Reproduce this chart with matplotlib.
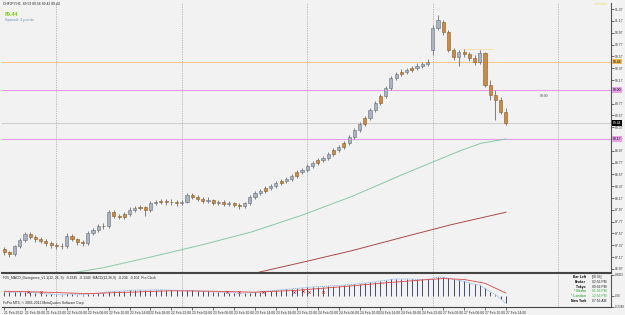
import matplotlib.pyplot as plt

plt.rcParams['font.family'] = ['Liberation Sans', 'DejaVu Sans']

W, H = 625, 315

# --- data (CHFJPY H1, 21 Feb 14:00 .. 27 Feb 14:00) ---
bars = list(range(97))
opens = [87.30, 87.25, 87.22, 87.36, 87.46, 87.56, 87.51, 87.47, 87.44, 87.41,
         87.37, 87.36, 87.35, 87.53, 87.47, 87.42, 87.40, 87.58, 87.63, 87.70,
         87.69, 87.93, 87.86, 87.90, 87.90, 87.97, 88.01, 88.01, 87.96, 88.08,
         88.12, 88.12, 88.10, 88.11, 88.08, 88.10, 88.22, 88.19, 88.15, 88.12,
         88.14, 88.08, 88.10, 88.07, 88.08, 88.05, 88.03, 88.08, 88.19, 88.25,
         88.34, 88.34, 88.37, 88.46, 88.46, 88.49, 88.61, 88.61, 88.64, 88.71,
         88.81, 88.81, 88.85, 88.98, 88.98, 89.10, 89.10, 89.20, 89.32, 89.52,
         89.52, 89.66, 89.90, 89.90, 90.03, 90.20, 90.31, 90.31, 90.37, 90.37,
         90.41, 90.44, 90.68, 91.05, 91.16, 90.99, 90.68, 90.56, 90.65, 90.61,
         90.54, 90.48, 90.63, 90.09, 89.92, 89.83, 89.63]
highs = [87.34, 87.28, 87.38, 87.50, 87.60, 87.59, 87.55, 87.51, 87.47, 87.45,
         87.41, 87.40, 87.57, 87.56, 87.50, 87.46, 87.61, 87.67, 87.73, 87.74,
         87.97, 87.96, 87.90, 87.94, 88.01, 88.04, 88.05, 88.04, 88.12, 88.14,
         88.16, 88.15, 88.15, 88.14, 88.14, 88.26, 88.25, 88.22, 88.18, 88.18,
         88.16, 88.14, 88.13, 88.12, 88.11, 88.08, 88.11, 88.22, 88.29, 88.33,
         88.38, 88.41, 88.46, 88.50, 88.53, 88.58, 88.65, 88.68, 88.75, 88.80,
         88.85, 88.89, 88.95, 89.02, 89.07, 89.14, 89.24, 89.36, 89.46, 89.56,
         89.70, 89.82, 89.94, 90.07, 90.24, 90.31, 90.35, 90.38, 90.41, 90.45,
         90.48, 90.52, 91.10, 91.27, 91.19, 91.02, 90.71, 90.68, 90.70, 90.65,
         90.60, 90.68, 90.65, 90.17, 90.00, 89.88, 89.70]
lows = [87.20, 87.17, 87.19, 87.33, 87.43, 87.48, 87.43, 87.40, 87.36, 87.33,
        87.31, 87.30, 87.33, 87.44, 87.38, 87.36, 87.38, 87.55, 87.60, 87.64,
        87.67, 87.83, 87.81, 87.82, 87.87, 87.94, 87.96, 87.86, 87.94, 88.05,
        88.07, 88.06, 88.06, 88.04, 88.05, 88.08, 88.16, 88.12, 88.09, 88.09,
        88.05, 88.05, 88.03, 88.04, 88.01, 87.99, 88.00, 88.06, 88.16, 88.22,
        88.26, 88.31, 88.34, 88.39, 88.43, 88.46, 88.51, 88.58, 88.61, 88.68,
        88.73, 88.78, 88.82, 88.88, 88.95, 89.00, 89.07, 89.17, 89.29, 89.39,
        89.49, 89.63, 89.75, 89.87, 90.00, 90.17, 90.24, 90.28, 90.31, 90.34,
        90.38, 90.41, 90.60, 91.02, 90.93, 90.65, 90.51, 90.41, 90.56, 90.49,
        90.43, 90.44, 90.05, 89.83, 89.49, 89.59, 89.41]
closes = [87.25, 87.22, 87.36, 87.46, 87.56, 87.51, 87.47, 87.44, 87.41, 87.37,
          87.36, 87.35, 87.53, 87.47, 87.42, 87.40, 87.58, 87.63, 87.70, 87.69,
          87.93, 87.86, 87.85, 87.85, 87.97, 88.00, 88.00, 87.96, 88.08, 88.10,
          88.10, 88.10, 88.11, 88.08, 88.10, 88.22, 88.19, 88.15, 88.12, 88.14,
          88.08, 88.10, 88.07, 88.08, 88.05, 88.03, 88.08, 88.19, 88.25, 88.29,
          88.29, 88.37, 88.42, 88.42, 88.49, 88.54, 88.54, 88.64, 88.71, 88.76,
          88.76, 88.85, 88.91, 88.91, 89.03, 89.03, 89.20, 89.32, 89.42, 89.42,
          89.66, 89.78, 89.78, 90.03, 90.20, 90.27, 90.27, 90.34, 90.34, 90.41,
          90.44, 90.48, 91.05, 91.19, 90.99, 90.68, 90.56, 90.65, 90.61, 90.54,
          90.48, 90.63, 90.09, 89.92, 89.83, 89.63, 89.44]

# moving averages, read at a few bars
ma_green_bars = [11, 19, 28.5, 38, 47.5, 57, 66.6, 76, 82, 87.5, 91.3, 96]
ma_green = [86.87, 86.99, 87.18, 87.38, 87.60, 87.88, 88.20, 88.56, 88.78, 88.98, 89.10, 89.17]
ma_red_bars = [46.6, 57, 66.6, 76, 85.6, 96]
ma_red = [86.87, 87.08, 87.28, 87.50, 87.72, 87.93]

# MACD panel
macd = [0.09, 0.08, 0.08, 0.08, 0.09, 0.08, 0.07, 0.06, 0.05, 0.04,
        0.03, 0.03, 0.04, 0.04, 0.03, 0.03, 0.04, 0.05, 0.06, 0.07,
        0.09, 0.10, 0.10, 0.11, 0.12, 0.12, 0.13, 0.12, 0.13, 0.13,
        0.13, 0.13, 0.12, 0.12, 0.11, 0.12, 0.12, 0.11, 0.10, 0.10,
        0.09, 0.08, 0.08, 0.07, 0.07, 0.06, 0.06, 0.07, 0.08, 0.09,
        0.10, 0.11, 0.12, 0.13, 0.14, 0.15, 0.16, 0.17, 0.18, 0.19,
        0.20, 0.20, 0.21, 0.22, 0.22, 0.23, 0.24, 0.25, 0.26, 0.27,
        0.29, 0.30, 0.32, 0.33, 0.35, 0.36, 0.36, 0.36, 0.36, 0.35,
        0.35, 0.35, 0.37, 0.40, 0.40, 0.38, 0.35, 0.33, 0.31, 0.28,
        0.25, 0.23, 0.16, 0.09, 0.03, -0.06, -0.16]
signal_bars = [0, 8, 16, 24, 32, 40, 48, 56, 64, 72, 80, 84, 88, 92, 96]
signal = [0.10, 0.08, 0.05, 0.08, 0.11, 0.10, 0.08, 0.12, 0.19, 0.27, 0.34, 0.37, 0.35, 0.27, 0.06]
div_bars = [4.5, 7, 42.6, 44.9, 49.6, 55.5, 57.2, 58.4, 61]
div_vals = [0.09, 0.09, 0.09, 0.08, 0.09, 0.09, 0.10, 0.09, 0.09]

date_ticks = list(range(0, 97, 4))
date_labels = ["21 Feb 2012", "21 Feb 18:00", "21 Feb 22:00", "22 Feb 02:00", "22 Feb 06:00",
               "22 Feb 10:00", "22 Feb 14:00", "22 Feb 18:00", "22 Feb 22:00", "23 Feb 02:00",
               "23 Feb 06:00", "23 Feb 10:00", "23 Feb 14:00", "23 Feb 18:00", "23 Feb 22:00",
               "24 Feb 02:00", "24 Feb 06:00", "24 Feb 10:00", "24 Feb 14:00", "24 Feb 18:00",
               "24 Feb 22:00", "27 Feb 02:00", "27 Feb 06:00", "27 Feb 10:00", "27 Feb 14:00"]
day_starts = [10, 34, 58, 82, 106]
price_ticks = [91.37, 91.17, 90.97, 90.77, 90.57, 90.37, 90.17, 89.97, 89.77, 89.57,
               89.37, 89.17, 88.97, 88.77, 88.57, 88.37, 88.17, 87.97, 87.77, 87.57,
               87.37, 87.17, 86.97]
levels = [(90.48, '#f5c98c', '#f5b860', 'black'), (90.00, '#e39be3', '#e8a0e8', 'black'),
          (89.44, '#cfcfcf', 'black', 'white'), (89.17, '#e39be3', '#e8a0e8', 'black')]

clock_names = ["Bar Left", "Broker", "Tokyo", "* Berlin", "* London", "New York"]
clock_vals = ["[00:36]", "02:56 PM", "09:56 PM", "01:56 PM", "12:56 PM", "07:56 AM"]
clock_cols = ["black", "black", "black", "#3cb04a", "#3cb04a", "black"]

BG = '#f2f2f2'
FS = 2.4

fig = plt.figure(figsize=(W / 100, H / 100), dpi=100, facecolor=BG)


def box(l, t, r, b):
    return [l / W, 1 - b / H, (r - l) / W, (b - t) / H]


ax = fig.add_axes(box(2, 3, 611, 273))
axm = fig.add_axes(box(2, 275, 611, 307), sharex=ax)
for a in (ax, axm):
    a.set_facecolor(BG)
    a.spines['top'].set_visible(False)
    a.spines['left'].set_visible(False)
    a.spines['right'].set_color('#555555')
    a.spines['bottom'].set_color('#444444')
    a.spines['right'].set_linewidth(0.8)
    a.yaxis.tick_right()
    a.tick_params(axis='y', labelsize=FS, length=2, width=0.5, pad=1, colors='#333333')
    for d in day_starts:
        a.axvline(d, color='#8a8a8a', lw=0.5, ls=(0, (1, 1.5)))
ax.spines['bottom'].set_linewidth(1.5)

# main chart
ax.set_xlim(0.1 - 0.5, 116.1)
ax.set_ylim(86.90, 91.475)
ax.plot(ma_green_bars, ma_green, color='#86c9a4', lw=0.7)
ax.plot(ma_red_bars, ma_red, color='#b04848', lw=0.7)
for val, lc, fc, tc in levels:
    ax.axhline(val, color=lc, lw=0.8, zorder=1)
    ax.annotate(f"{val:.2f}", xy=(1.0, val), xycoords=('axes fraction', 'data'),
                xytext=(1.2, 0), textcoords='offset points', va='center', ha='left',
                fontsize=FS, color=tc,
                bbox=dict(boxstyle='square,pad=0.2', fc=fc, ec='none'), annotation_clip=False)
ax.hlines(90.70, 87.5, 93.5, color='#f8dcb8', lw=0.7)
ax.text(102.5, 89.93, "90.00", fontsize=FS, color='#444444', va='top')

ax.vlines(bars, lows, highs, color='#6e6e6e', lw=0.6, zorder=3)
body_bottom = [min(o, c) for o, c in zip(opens, closes)]
body_h = [max(abs(c - o), 0.01) for o, c in zip(opens, closes)]
body_col = ['#aab3bf' if c >= o else '#c98b45' for o, c in zip(opens, closes)]
body_edge = ['#67707c' if c >= o else '#8b5a22' for o, c in zip(opens, closes)]
ax.bar(bars, body_h, bottom=body_bottom, width=0.6, color=body_col,
       edgecolor=body_edge, linewidth=0.4, zorder=4)
ax.set_yticks(price_ticks)
ax.set_yticklabels([f"{p:.2f}" for p in price_ticks])
ax.tick_params(axis='x', bottom=False, labelbottom=False)

# MACD
axm.set_ylim(-0.2349, 0.4453)
axm.vlines(bars, 0, macd, color='#2f2f5e', lw=0.6)
axm.plot(bars, macd, color='#7fb0e8', lw=0.6, ls=(0, (1.5, 1)))
axm.plot(signal_bars, signal, color='#e04545', lw=0.6)
axm.plot(div_bars, div_vals, ls='none', marker='x', ms=1.6, mew=0.5, color='#d02020')
axm.set_yticks([0.4453, 0.0, -0.2349])
axm.set_yticklabels(["0.4453", "0.00", "-0.2349"])
axm.tick_params(axis='y', labelsize=2.1)
axm.set_xticks(date_ticks)
axm.set_xticklabels(date_labels, ha='left')
axm.tick_params(axis='x', labelsize=FS, length=2, width=0.5, pad=0.8, colors='#333333')


# texts
def ftext(x, y, s, **kw):
    kw.setdefault('fontsize', FS)
    kw.setdefault('va', 'center')
    fig.text(x / W, 1 - y / H, s, **kw)


ftext(3, 3.5, "CHFJPY,H1  89.53 89.56 89.42 89.44", color='#222222')
ftext(5, 14, "89.44", fontsize=3.9, color='#7ccc10', fontweight='bold')
ftext(5, 20, "Spread: 3 points", fontsize=2.9, color='#6d8fb8')
ftext(608, 4, "x.Chartist", color='#e8e060', ha='right')
ftext(3, 277.5, "FX5_MACD_Divergence_v1.1(12, 26, 9)  -0.2345  -0.1340  MACD(12,26,9)  -0.234  -0.104  Pro Clock",
      color='#222222')
ftext(3, 303, "FxPro MT4, \u00a9 2001-2012 MetaQuotes Software Corp.", color='#222222')
for k, (n, v, c) in enumerate(zip(clock_names, clock_vals, clock_cols)):
    y = 277 + 4.8 * k
    ftext(586, y, n, ha='right', color=c, fontweight='bold')
    ftext(592, y, v, ha='left', color=c if c != 'black' else '#222222')

fig.savefig('out.png', dpi=100, facecolor=BG)
